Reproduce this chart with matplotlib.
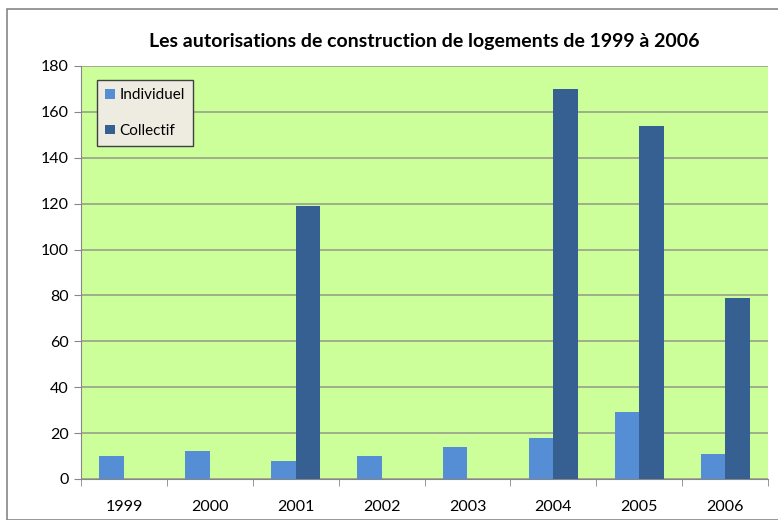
import matplotlib
matplotlib.use("Agg")
import matplotlib.pyplot as plt
import numpy as np
from matplotlib.patches import Rectangle

years = ["1999", "2000", "2001", "2002", "2003", "2004", "2005", "2006"]
individuel = [10, 12, 8, 10, 14, 18, 29, 11]
collectif = [0, 0, 119, 0, 0, 170, 154, 79]
yticks = [0, 20, 40, 60, 80, 100, 120, 140, 160, 180]
title = "Les autorisations de construction de logements de 1999 à 2006"

plt.rcParams['font.family'] = ['Lato', 'DejaVu Sans']

W, H = 778, 520
fig = plt.figure(figsize=(W/100, H/100), dpi=100)
fig.patch.set_facecolor('white')

# outer chart border
fig.patches.append(Rectangle((7/W, 0), 1.0, 1 - 9/H, transform=fig.transFigure,
                             fill=False, edgecolor='#868686', linewidth=1.2))

ax = fig.add_axes([81/W, 1 - 479/H, (768-81)/W, (479-66)/H])
ax.set_facecolor('#CCFF99')

x = np.arange(len(years))
w = 1/3.5
ax.bar(x - w/2, individuel, width=w, color='#558ED5', label='Individuel', zorder=3)
ax.bar(x + w/2, collectif, width=w, color='#366092', label='Collectif', zorder=3)

ax.set_xlim(-0.5, len(years) - 0.5)
ax.set_ylim(0, 180)
ax.set_yticks(yticks)
ax.set_yticklabels([str(v) for v in yticks], fontsize=11.5)
ax.yaxis.grid(True, color='#9A9F8A', linewidth=1.2, zorder=0)
ax.set_axisbelow(True)

ax.set_xticks(x)
ax.set_xticklabels(years, fontsize=11.5)
ax.set_xticks(np.arange(-0.5, len(years)), minor=True)
ax.tick_params(axis='x', which='major', length=0, pad=15)
ax.tick_params(axis='x', which='minor', length=5, color='#868686')
ax.tick_params(axis='y', length=5, color='#868686', pad=4)

for s in ['top', 'right']:
    ax.spines[s].set_visible(False)
for s in ['left', 'bottom']:
    ax.spines[s].set_color('#868686')

fig.text((81 + 768) / 2 / W, 1 - 42/H, title, ha='center', va='center',
         fontsize=14, fontweight='bold')

leg = ax.legend(loc='upper left', bbox_to_anchor=((97-81)/(768-81), 1 - (80-66)/(479-66)),
                fontsize=11, frameon=True, fancybox=False, borderaxespad=0,
                handlelength=0.6, handleheight=0.6, handletextpad=0.3,
                labelspacing=1.4, borderpad=0.55)
leg.get_frame().set_facecolor('#EEECE1')
leg.get_frame().set_edgecolor('#404040')
leg.get_frame().set_alpha(1)

fig.savefig('out.png', dpi=100)
